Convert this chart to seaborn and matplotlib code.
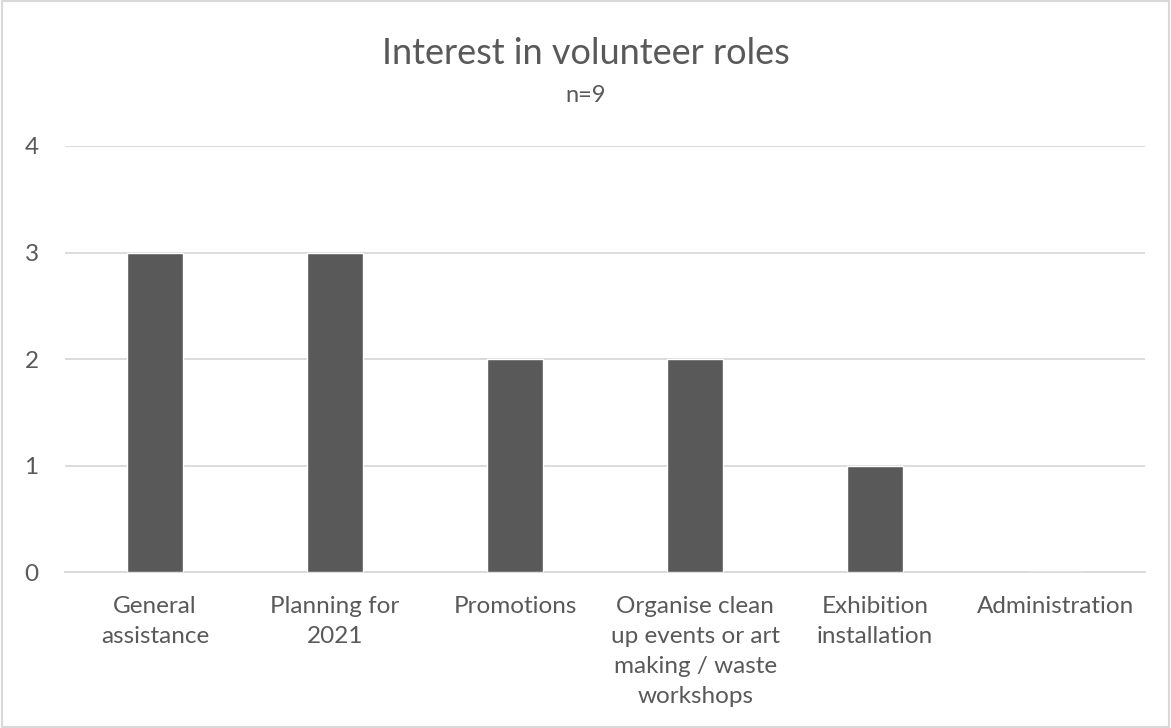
import matplotlib
matplotlib.use("Agg")
import matplotlib.pyplot as plt
import seaborn as sns
import pandas as pd

# Data
roles = [
    "General\nassistance",
    "Planning for\n2021",
    "Promotions",
    "Organise clean\nup events or art\nmaking / waste\nworkshops",
    "Exhibition\ninstallation",
    "Administration",
]
counts = [3, 3, 2, 2, 1, 0]
y_ticks = [0, 1, 2, 3, 4]

df = pd.DataFrame({"role": roles, "count": counts})

sns.set_theme(style="white")
plt.rcParams["font.family"] = ["Lato", "DejaVu Sans"]

TEXT = "#595959"
GRID = "#d9d9d9"

fig = plt.figure(figsize=(11.71, 7.28), dpi=100)
ax = fig.add_axes([0.0555, 0.214, 0.9225, 0.5855])

sns.barplot(data=df, x="role", y="count", color="#595959", width=0.31,
            saturation=1, ax=ax, zorder=3)

ax.set_ylim(0, 4)
ax.set_yticks(y_ticks)
ax.set_xlim(-0.5, len(roles) - 0.5)
ax.yaxis.grid(True, color=GRID, linewidth=1.3, zorder=0)
ax.set_xlabel("")
ax.set_ylabel("")
for s in ["top", "right", "left"]:
    ax.spines[s].set_visible(False)
ax.spines["bottom"].set_color(GRID)
ax.spines["bottom"].set_linewidth(1.3)
ax.tick_params(axis="both", length=0, labelsize=17.5, colors=TEXT)
ax.tick_params(axis="x", pad=17)
ax.tick_params(axis="y", pad=19)
for lab in ax.get_xticklabels():
    lab.set_verticalalignment("top")
    lab.set_linespacing(1.53)

fig.text(0.5, 0.926, "Interest in volunteer roles", ha="center", va="center",
         fontsize=26, color=TEXT)
fig.text(0.5, 0.869, "n=9", ha="center", va="center", fontsize=17, color=TEXT)

# Outer border
border = plt.Rectangle((0.002, 0.002), 0.996, 0.996, transform=fig.transFigure,
                       fill=False, edgecolor=GRID, linewidth=1.5)
fig.patches.append(border)

fig.savefig("out.png", dpi=100)
